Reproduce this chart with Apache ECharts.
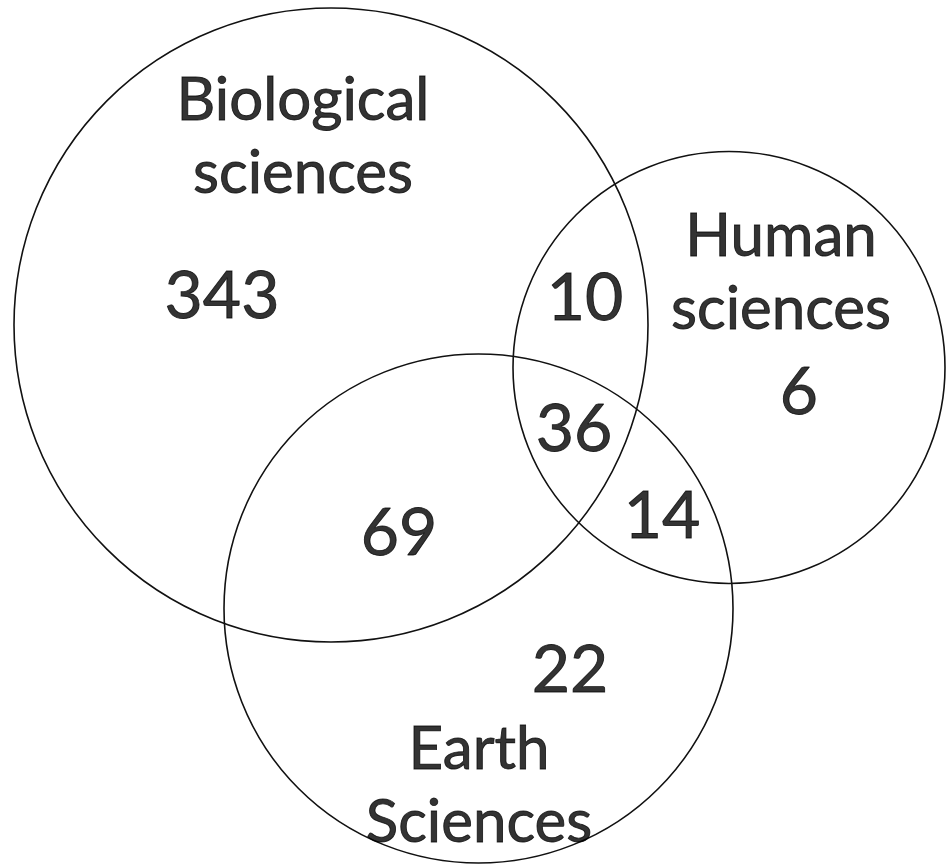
<!DOCTYPE html>
<html>
<head>
<meta charset="utf-8">
<script src="https://cdn.jsdelivr.net/npm/echarts@6/dist/echarts.min.js"></script>
<style>
  html, body { margin: 0; padding: 0; background: #fff; }
  #chart { width: 947px; height: 867px; }
</style>
</head>
<body>
<div id="chart"></div>
<script>
// sets: name, circle centre and radius in diagram units
const setNames = ['Biological\nsciences', 'Human\nsciences', 'Earth\nSciences']
const setCx = [331, 729, 478.5]
const setCy = [325, 367.5, 608.5]
const setR = [317, 216, 254.5]
const setLabelX = [303, 781, 479]
const setLabelY = [137, 273, 786]

// region counts and where they sit
const regionCounts = [343, 10, 6, 36, 69, 14, 22]
const regionX = [222, 585, 799, 574, 399, 662, 570]
const regionY = [297, 299, 393, 430, 534, 517, 671]

const FONT = 'Lato'

const chart = echarts.init(document.getElementById('chart'), null, { renderer: 'canvas' })

// lato is a touch lighter than the original, so give it a thin stroke
const textStyle = {
  fontFamily: FONT,
  color: '#000',
  textBorderColor: '#000',
  textBorderWidth: 0.9,
  align: 'center',
  verticalAlign: 'middle'
}

chart.setOption({
  backgroundColor: '#fff',
  animation: false,
  grid: { left: 0, right: 0, top: 0, bottom: 0 },
  xAxis: { type: 'value', min: 0, max: 947, show: false },
  yAxis: { type: 'value', min: 0, max: 867, inverse: true, show: false },
  series: [
    {
      type: 'custom',
      data: setNames.map((n, i) => [setCx[i], setCy[i], setR[i]]),
      renderItem: (params, api) => {
        const c = api.coord([api.value(0), api.value(1)])
        const r = api.size([api.value(2), 0])[0]
        return {
          type: 'circle',
          shape: { cx: c[0], cy: c[1], r },
          style: { fill: 'none', stroke: '#111', lineWidth: 1.6 }
        }
      },
      silent: true
    },
    {
      type: 'scatter',
      symbolSize: 0,
      data: setNames.map((n, i) => ({ name: n, value: [setLabelX[i], setLabelY[i]] })),
      label: {
        show: true,
        position: 'inside',
        formatter: p => p.name,
        fontSize: 60,
        lineHeight: 73,
        ...textStyle
      },
      silent: true
    },
    {
      type: 'scatter',
      symbolSize: 0,
      data: regionCounts.map((v, i) => ({ name: String(v), value: [regionX[i], regionY[i]] })),
      label: {
        show: true,
        position: 'inside',
        formatter: p => p.name,
        fontSize: 66,
        ...textStyle
      },
      silent: true
    }
  ]
})
</script>
</body>
</html>
